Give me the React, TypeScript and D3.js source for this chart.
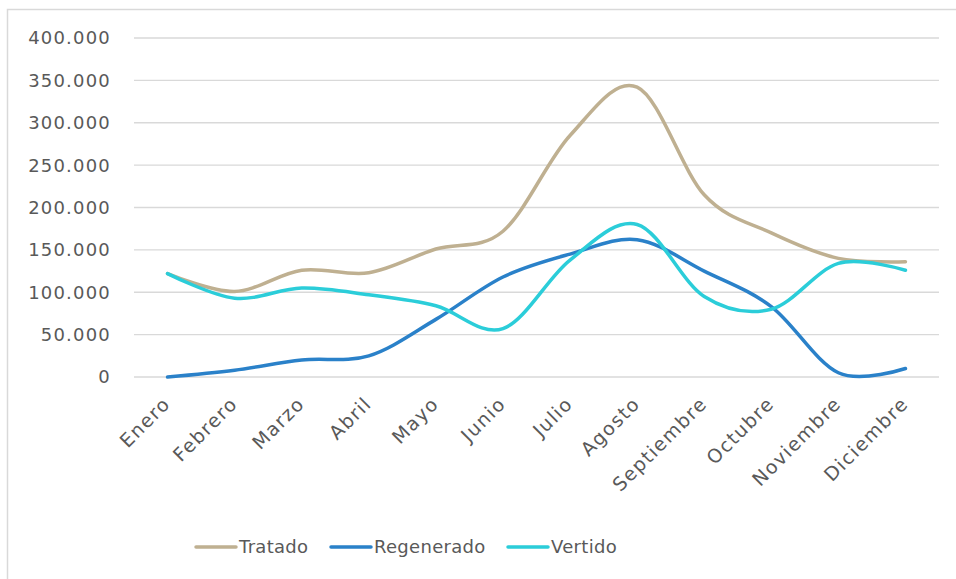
import React from "react";
import * as d3 from "d3";

const months = ["Enero","Febrero","Marzo","Abril","Mayo","Junio","Julio","Agosto","Septiembre","Octubre","Noviembre","Diciembre"];
const tratado = [122000,101000,126000,123000,151000,172000,285000,342000,215000,170000,140000,136000];
const regenerado = [0,8000,20000,25000,68000,118000,145000,162000,125000,83000,5000,10000];
const vertido = [122000,93000,105000,97000,84000,57000,138000,180000,95000,80000,134000,126000];
const yTicks = [0,50000,100000,150000,200000,250000,300000,350000,400000];
const seriesNames = ["Tratado","Regenerado","Vertido"];
const seriesColors = ["#BFB091","#2A81C9","#2BCDD9"];

const W = 956, H = 579;
const FONT = "'DejaVu Sans', sans-serif";

export default function App() {
  const x = d3.scaleBand().domain(months).range([134, 939]);
  const y = d3.scaleLinear().domain([0, 400000]).range([377, 38]);
  const fmt = (v: number) => d3.format(",")(v).replace(/,/g, ".");
  const line = d3.line<number>()
    .x((_, i) => (x(months[i]) as number) + x.bandwidth() / 2)
    .y(d => y(d))
    .curve(d3.curveCatmullRom.alpha(0));
  const data = [tratado, regenerado, vertido];
  const legendX = [196, 331, 508];
  return (
    <svg width={W} height={H} style={{ position: "absolute", left: 0, top: 0, background: "#fff" }}>
      <rect x={7.5} y={9.5} width={W + 10} height={H + 10} fill="#fff" stroke="#d9d9d9" strokeWidth={1.5} />
      {yTicks.map(t => (
        <g key={t}>
          <line x1={134} x2={939} y1={y(t)} y2={y(t)} stroke="#d9d9d9" strokeWidth={1.3} />
          <text x={111} y={y(t)} dy="0.36em" textAnchor="end" fontFamily={FONT} fontSize={18} fill="#595959" letterSpacing={1.2}>{fmt(t)}</text>
        </g>
      ))}
      {months.map(m => {
        const cx = (x(m) as number) + x.bandwidth() / 2 + 4;
        const cy = 405;
        return (
          <text key={m} x={cx} y={cy} textAnchor="end" fontFamily={FONT} fontSize={19} fill="#595959" letterSpacing={1.4}
            transform={`rotate(-45, ${cx}, ${cy})`}>{m}</text>
        );
      })}
      {data.map((d, i) => (
        <path key={i} d={line(d) as string} fill="none" stroke={seriesColors[i]} strokeWidth={3.5} strokeLinecap="round" />
      ))}
      {seriesNames.map((n, i) => (
        <g key={n}>
          <line x1={legendX[i]} x2={legendX[i] + 40} y1={547} y2={547} stroke={seriesColors[i]} strokeWidth={3.5} strokeLinecap="round" />
          <text x={legendX[i] + 43} y={547} dy="0.36em" fontFamily={FONT} fontSize={18} fill="#595959" letterSpacing={0.3}>{n}</text>
        </g>
      ))}
    </svg>
  );
}
